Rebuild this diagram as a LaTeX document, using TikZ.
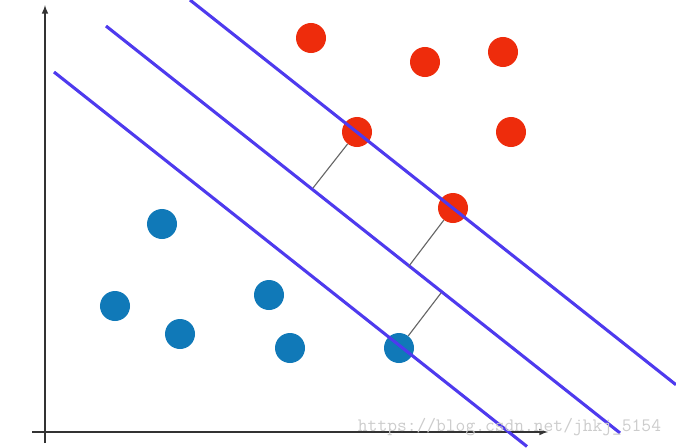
\documentclass[tikz,border=0pt]{standalone}
\definecolor{ptred}{RGB}{238,44,12}
\definecolor{ptblue}{RGB}{16,121,184}
\definecolor{svline}{RGB}{78,58,238}
\tikzset{
  redpt/.style={circle,fill=ptred,inner sep=0,minimum size=0.75cm},
  bluept/.style={circle,fill=ptblue,inner sep=0,minimum size=0.75cm},
  margin/.style={svline,line width=2.2pt},
  gap/.style={gray!80!black,line width=0.8pt}
}

\begin{document}
\begin{tikzpicture}[x=0.025cm,y=-0.025cm,join=round]
    \useasboundingbox (0,0) rectangle (676,447);
    \def\s{0.7917}
    % axes
    \draw[gray!40!black,line width=1.1pt,-latex] (45,443)--(45,5);
    \draw[gray!40!black,line width=1.1pt,-latex] (32,432)--(548,432);
    % red class
    \node[redpt] (r1) at (311,38) {};
    \node[redpt] (r2) at (425,62) {};
    \node[redpt] (r3) at (503,52) {};
    \node[redpt] (r4) at (357,132) {};
    \node[redpt] (r5) at (511,132) {};
    \node[redpt] (r6) at (453,208) {};
    % blue class
    \node[bluept] (b1) at (162,224) {};
    \node[bluept] (b2) at (115,306) {};
    \node[bluept] (b3) at (180,334) {};
    \node[bluept] (b4) at (269,295) {};
    \node[bluept] (b5) at (290,348) {};
    \node[bluept] (b6) at (399,348) {};
    % the three lines
    \draw[margin] (190,0)--(676,{486*\s});
    \draw[margin] (106,26)--(620,{26+514*\s});
    \draw[margin] (54,72)--(527,{72+473*\s});
    \coordinate (m1) at (313,188);
    \coordinate (m2) at (409,266);
    \coordinate (m3) at (441,293);
    \draw[gap] (r4)--(m1) (r6)--(m2) (b6)--(m3);
    \node[gray!40,font=\ttfamily\fontsize{13.5}{14}\selectfont,anchor=east] (wm) at (666,427) {https://blog.csdn.net/jhkj\_5154};
\end{tikzpicture}
\end{document}
